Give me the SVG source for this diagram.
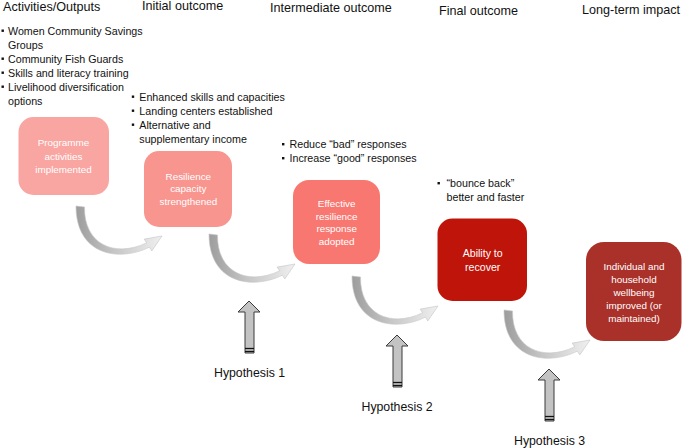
<svg xmlns="http://www.w3.org/2000/svg" xmlns:xlink="http://www.w3.org/1999/xlink" width="685" height="448" viewBox="0 0 685 448">
<style>
  text { font-family: "Liberation Sans", Arial, sans-serif; }
  .hdr { font-size: 12.6px; fill: #111; }
  .bul { font-size: 10.7px; fill: #111; }
  .nd { font-size: 9.9px; fill: #ffffff; text-anchor: middle; }
  .hyp { font-size: 12.3px; fill: #111; }
  .sq { fill: #111; }
  .carrow { fill: url(#grayGrad); stroke: #c4c4c4; stroke-width: 0.6; }
  .harrow { fill: #c3c3c3; stroke: #3a3a3a; stroke-width: 1; }
  .stripe { stroke: #111; stroke-width: 1.3; }
</style>
<defs>
  <linearGradient id="grayGrad" x1="0" y1="0" x2="1" y2="0">
    <stop offset="0" stop-color="#9d9d9d"/>
    <stop offset="0.45" stop-color="#c6c6c6"/>
    <stop offset="1" stop-color="#f0f0f0"/>
  </linearGradient>
  <path id="curve" d="M0,0 L8.5,1 C8,38 38,52 70.6,36.9 L68.2,33.1 L86,30 L75.8,44.9 L73.4,41.1 C44,56 0,50 0,0 Z"/>
  <g id="uparrow">
    <path class="harrow" d="M0,0 L11,11 L5,11 L5,52 L-4,52 L-4,11 L-11,11 Z"/>
    <line class="stripe" x1="-4" y1="47.5" x2="5" y2="47.5"/>
    <line class="stripe" x1="-4" y1="50.5" x2="5" y2="50.5"/>
  </g>
</defs>
<rect width="685" height="448" fill="#ffffff"/>

<g id="headers">
  <text class="hdr" x="3" y="10.5">Activities/Outputs</text>
  <text class="hdr" x="142" y="9.5">Initial outcome</text>
  <text class="hdr" x="270" y="11.5">Intermediate outcome</text>
  <text class="hdr" x="439" y="14.5">Final outcome</text>
  <text class="hdr" x="582" y="14">Long-term impact</text>
</g>

<g id="bullets-activities">
  <rect class="sq" x="1.5" y="29.5" width="2.4" height="2.4"/>
  <text class="bul" x="8" y="34.5">Women Community Savings</text>
  <text class="bul" x="8" y="48.5">Groups</text>
  <rect class="sq" x="1.5" y="57.5" width="2.4" height="2.4"/>
  <text class="bul" x="8" y="62.5">Community Fish Guards</text>
  <rect class="sq" x="1.5" y="71.5" width="2.4" height="2.4"/>
  <text class="bul" x="8" y="76.5">Skills and literacy training</text>
  <rect class="sq" x="1.5" y="85.5" width="2.4" height="2.4"/>
  <text class="bul" x="8" y="90.5">Livelihood diversification</text>
  <text class="bul" x="8" y="104.5">options</text>
</g>

<g id="bullets-initial">
  <rect class="sq" x="131.8" y="95.5" width="2.4" height="2.4"/>
  <text class="bul" x="139.3" y="100.5">Enhanced skills and capacities</text>
  <rect class="sq" x="131.8" y="109.5" width="2.4" height="2.4"/>
  <text class="bul" x="139.3" y="114.5">Landing centers established</text>
  <rect class="sq" x="131.8" y="123.5" width="2.4" height="2.4"/>
  <text class="bul" x="139.3" y="128.5">Alternative and</text>
  <text class="bul" x="139.3" y="142.5">supplementary income</text>
</g>

<g id="bullets-intermediate">
  <rect class="sq" x="282" y="143" width="2.4" height="2.4"/>
  <text class="bul" x="289.5" y="148">Reduce “bad” responses</text>
  <rect class="sq" x="282" y="157" width="2.4" height="2.4"/>
  <text class="bul" x="289.5" y="162">Increase “good” responses</text>
</g>

<g id="bullets-final">
  <rect class="sq" x="437.5" y="182" width="2.4" height="2.4"/>
  <text class="bul" x="446.5" y="187">“bounce back”</text>
  <text class="bul" x="446.5" y="201">better and faster</text>
</g>

<g id="connectors">
  <use xlink:href="#curve" class="carrow" transform="translate(76,206)"/>
  <use xlink:href="#curve" class="carrow" transform="translate(209,234)"/>
  <use xlink:href="#curve" class="carrow" transform="translate(352,276)"/>
  <use xlink:href="#curve" class="carrow" transform="translate(504,310)"/>
</g>

<g id="node-programme">
  <rect x="18.5" y="117" width="90.5" height="78" rx="15" fill="#F9A5A1"/>
  <text class="nd" x="63.5" y="146">Programme</text>
  <text class="nd" x="63.5" y="159.5">activities</text>
  <text class="nd" x="63.5" y="172.5">implemented</text>
</g>

<g id="node-resilience">
  <rect x="144" y="151" width="88" height="76" rx="15" fill="#F8958F"/>
  <text class="nd" x="188.3" y="179.5">Resilience</text>
  <text class="nd" x="188.3" y="192">capacity</text>
  <text class="nd" x="188.3" y="204.7">strengthened</text>
</g>

<g id="node-response">
  <rect x="293" y="180" width="87" height="84" rx="16" fill="#F87871"/>
  <text class="nd" x="336.7" y="206.5">Effective</text>
  <text class="nd" x="336.7" y="219.5">resilience</text>
  <text class="nd" x="336.7" y="232">response</text>
  <text class="nd" x="336.7" y="245">adopted</text>
</g>

<g id="node-recover">
  <rect x="437.5" y="218.5" width="89.5" height="82.5" rx="15" fill="#BE1409"/>
  <text class="nd" x="482.7" y="257" style="font-size:10.6px">Ability to</text>
  <text class="nd" x="482.7" y="270.7" style="font-size:10.6px">recover</text>
</g>

<g id="node-wellbeing">
  <rect x="586" y="242" width="95.5" height="99" rx="18" fill="#A9312A"/>
  <text class="nd" x="634" y="269.5">Individual  and</text>
  <text class="nd" x="634" y="282.5">household</text>
  <text class="nd" x="634" y="295.5">wellbeing</text>
  <text class="nd" x="634" y="308.5">improved  (or</text>
  <text class="nd" x="634" y="321.5">maintained)</text>
</g>

<g id="hypothesis-1">
  <use xlink:href="#uparrow" transform="translate(249,301)"/>
  <text class="hyp" x="214" y="377">Hypothesis  1</text>
</g>
<g id="hypothesis-2">
  <use xlink:href="#uparrow" transform="translate(397,335)"/>
  <text class="hyp" x="361.5" y="411">Hypothesis  2</text>
</g>
<g id="hypothesis-3">
  <use xlink:href="#uparrow" transform="translate(549,369)"/>
  <text class="hyp" x="514" y="445">Hypothesis  3</text>
</g>
</svg>
